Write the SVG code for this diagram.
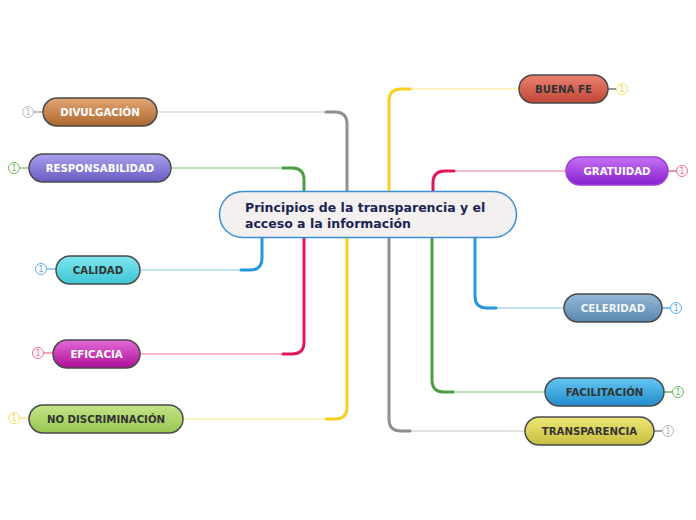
<svg xmlns="http://www.w3.org/2000/svg" width="696" height="520" viewBox="0 0 696 520">
<defs>
<linearGradient id="gBrown" x1="0" y1="0" x2="0" y2="1"><stop offset="0" stop-color="#e2a676"/><stop offset="1" stop-color="#ad672e"/></linearGradient>
<linearGradient id="gPurple" x1="0" y1="0" x2="0" y2="1"><stop offset="0" stop-color="#aaa2ee"/><stop offset="1" stop-color="#675ac2"/></linearGradient>
<linearGradient id="gCyan" x1="0" y1="0" x2="0" y2="1"><stop offset="0" stop-color="#7ee6ee"/><stop offset="1" stop-color="#3ec6d6"/></linearGradient>
<linearGradient id="gMag" x1="0" y1="0" x2="0" y2="1"><stop offset="0" stop-color="#e46ad6"/><stop offset="1" stop-color="#ad0f98"/></linearGradient>
<linearGradient id="gGreen" x1="0" y1="0" x2="0" y2="1"><stop offset="0" stop-color="#c4e488"/><stop offset="1" stop-color="#96c650"/></linearGradient>
<linearGradient id="gRed" x1="0" y1="0" x2="0" y2="1"><stop offset="0" stop-color="#ec8272"/><stop offset="1" stop-color="#c04636"/></linearGradient>
<linearGradient id="gViolet" x1="0" y1="0" x2="0" y2="1"><stop offset="0" stop-color="#c772f4"/><stop offset="1" stop-color="#861fcc"/></linearGradient>
<linearGradient id="gSteel" x1="0" y1="0" x2="0" y2="1"><stop offset="0" stop-color="#96bad8"/><stop offset="1" stop-color="#5886ae"/></linearGradient>
<linearGradient id="gBlue" x1="0" y1="0" x2="0" y2="1"><stop offset="0" stop-color="#66c6f2"/><stop offset="1" stop-color="#1f8ccc"/></linearGradient>
<linearGradient id="gYellow" x1="0" y1="0" x2="0" y2="1"><stop offset="0" stop-color="#ece676"/><stop offset="1" stop-color="#c8be40"/></linearGradient>
</defs>
<style>
.node{stroke:#4a4a4a;stroke-width:1.5}
.lbl{font-family:"DejaVu Sans",Verdana,sans-serif;font-weight:bold;font-size:10.2px;text-anchor:middle}
.w{fill:#ffffff}
.d{fill:#333333}
.thick{fill:none;stroke-width:3;stroke-linecap:round}
.thin{fill:none;stroke-width:1.2}
.cnt{fill:#fff;stroke-width:1}
.num{font-family:"DejaVu Sans",sans-serif;font-size:8px;text-anchor:middle}
.title{font-family:"DejaVu Sans",Verdana,sans-serif;font-weight:bold;font-size:12.5px;fill:#1b2452}
</style>
<rect width="696" height="520" fill="#ffffff"/>
<g id="connectors">
  <path class="thin" stroke="#c4c4c4" d="M157 112 H335"/>
  <path class="thick" stroke="#8f8f8f" d="M326 112 H335 Q347 112 347 124 V191"/>
  <path class="thin" stroke="#7cc070" d="M171 168 H292"/>
  <path class="thick" stroke="#4aa040" d="M283 168 H292 Q304 168 304 180 V191"/>
  <path class="thin" stroke="#8cc8f0" d="M140 270 H250"/>
  <path class="thick" stroke="#2596e0" d="M241 270 H250 Q262 270 262 258 V238"/>
  <path class="thin" stroke="#f07aa0" d="M140 354 H292"/>
  <path class="thick" stroke="#e0185a" d="M283 354 H292 Q304 354 304 342 V238"/>
  <path class="thin" stroke="#f8e888" d="M183 419 H335"/>
  <path class="thick" stroke="#f8d020" d="M326 419 H335 Q347 419 347 407 V238"/>
  <path class="thin" stroke="#f8e888" d="M401 89 H519"/>
  <path class="thick" stroke="#f8d020" d="M389 191 V101 Q389 89 401 89 H410"/>
  <path class="thin" stroke="#f07aa0" d="M445 171 H566"/>
  <path class="thick" stroke="#e0185a" d="M433 191 V183 Q433 171 445 171 H454"/>
  <path class="thin" stroke="#8cc8f0" d="M487 308 H564"/>
  <path class="thick" stroke="#2596e0" d="M475 238 V296 Q475 308 487 308 H496"/>
  <path class="thin" stroke="#7cc070" d="M444 392 H545"/>
  <path class="thick" stroke="#4aa040" d="M432 238 V380 Q432 392 444 392 H453"/>
  <path class="thin" stroke="#c4c4c4" d="M401 431 H525"/>
  <path class="thick" stroke="#8f8f8f" d="M389 238 V419 Q389 431 401 431 H410"/>
  <path stroke="#999" stroke-width="1.2" d="M34 112 H43"/>
  <path stroke="#6cbc60" stroke-width="1.2" d="M20 168 H29"/>
  <path stroke="#5ab0ea" stroke-width="1.2" d="M47 269 H56"/>
  <path stroke="#f06a90" stroke-width="1.2" d="M44 353 H53"/>
  <path stroke="#f8e060" stroke-width="1.2" d="M20 418 H29"/>
  <path stroke="#555" stroke-width="1.2" d="M608 89 H616"/>
  <path stroke="#e0407a" stroke-width="1.2" d="M668 171 H676"/>
  <path stroke="#2596e0" stroke-width="1.2" d="M662 308 H670"/>
  <path stroke="#4aa040" stroke-width="1.2" d="M664 392 H672"/>
  <path stroke="#666" stroke-width="1.2" d="M654 431 H662"/>
</g>
<g id="central">
  <rect x="219.5" y="191.5" width="297" height="46" rx="23" fill="#f4f0f0" stroke="#3a90d6" stroke-width="1.5"/>
  <text class="title" x="245" y="212">Principios de la transparencia y el</text>
  <text class="title" x="245" y="228">acceso a la información</text>
</g>
<g id="divulgacion">
  <rect class="node" x="43" y="98" width="114" height="28" rx="14" fill="url(#gBrown)"/>
  <text class="lbl w" x="100" y="116">DIVULGACIÓN</text>
  <circle class="cnt" cx="28" cy="112" r="5.5" stroke="#b8b8b8"/>
  <text class="num" x="28" y="115" fill="#b0b0b0">1</text>
</g>
<g id="responsabilidad">
  <rect class="node" x="29" y="154" width="142" height="28" rx="14" fill="url(#gPurple)"/>
  <text class="lbl w" x="100" y="172">RESPONSABILIDAD</text>
  <circle class="cnt" cx="14" cy="168" r="5.5" stroke="#6cbc60"/>
  <text class="num" x="14" y="171" fill="#6cbc60">1</text>
</g>
<g id="calidad">
  <rect class="node" x="56" y="256" width="84" height="28" rx="14" fill="url(#gCyan)"/>
  <text class="lbl d" x="98" y="274">CALIDAD</text>
  <circle class="cnt" cx="41" cy="269" r="5.5" stroke="#5ab0ea"/>
  <text class="num" x="41" y="272" fill="#5ab0ea">1</text>
</g>
<g id="eficacia">
  <rect class="node" x="53" y="340" width="87" height="28" rx="14" fill="url(#gMag)"/>
  <text class="lbl w" x="96.5" y="358">EFICACIA</text>
  <circle class="cnt" cx="38" cy="353" r="5.5" stroke="#f06a90"/>
  <text class="num" x="38" y="356" fill="#f06a90">1</text>
</g>
<g id="no-discriminacion">
  <rect class="node" x="29" y="405" width="154" height="28" rx="14" fill="url(#gGreen)"/>
  <text class="lbl d" x="106" y="423">NO DISCRIMINACIÓN</text>
  <circle class="cnt" cx="14" cy="418" r="5.5" stroke="#f8e060"/>
  <text class="num" x="14" y="421" fill="#f0d040">1</text>
</g>
<g id="buena-fe">
  <rect class="node" x="519" y="75" width="89" height="28" rx="14" fill="url(#gRed)"/>
  <text class="lbl d" x="563.5" y="93">BUENA FE</text>
  <circle class="cnt" cx="622" cy="89" r="5.5" stroke="#f8e060"/>
  <text class="num" x="622" y="92" fill="#f0d040">1</text>
</g>
<g id="gratuidad">
  <rect x="566" y="157" width="102" height="28" rx="14" fill="url(#gViolet)" stroke="#9a40d8" stroke-width="1.5"/>
  <text class="lbl w" x="617" y="175">GRATUIDAD</text>
  <circle class="cnt" cx="682" cy="171" r="5.5" stroke="#f06a90"/>
  <text class="num" x="682" y="174" fill="#f06a90">1</text>
</g>
<g id="celeridad">
  <rect class="node" x="564" y="294" width="98" height="28" rx="14" fill="url(#gSteel)"/>
  <text class="lbl" x="613" y="312" fill="#f0f4f8">CELERIDAD</text>
  <circle class="cnt" cx="676" cy="308" r="5.5" stroke="#5ab0ea"/>
  <text class="num" x="676" y="311" fill="#5ab0ea">1</text>
</g>
<g id="facilitacion">
  <rect class="node" x="545" y="378" width="119" height="28" rx="14" fill="url(#gBlue)"/>
  <text class="lbl d" x="604.5" y="396">FACILITACIÓN</text>
  <circle class="cnt" cx="678" cy="392" r="5.5" stroke="#6cbc60"/>
  <text class="num" x="678" y="395" fill="#6cbc60">1</text>
</g>
<g id="transparencia">
  <rect class="node" x="525" y="417" width="129" height="28" rx="14" fill="url(#gYellow)"/>
  <text class="lbl d" x="589.5" y="435">TRANSPARENCIA</text>
  <circle class="cnt" cx="668" cy="431" r="5.5" stroke="#b8b8b8"/>
  <text class="num" x="668" y="434" fill="#b0b0b0">1</text>
</g>
</svg>
